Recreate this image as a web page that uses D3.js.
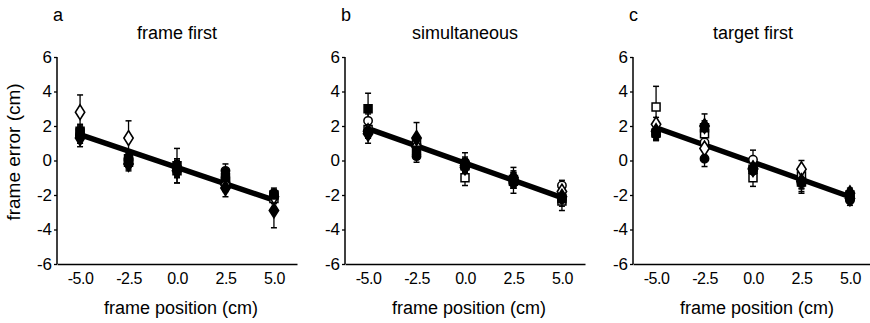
<!DOCTYPE html>
<html><head><meta charset="utf-8">
<script src="https://cdn.jsdelivr.net/npm/d3@7"></script>
<style>body{margin:0;background:#fff}svg{display:block}text{font-family:"Liberation Sans",Arial,sans-serif;fill:#000}</style>
</head><body><svg id="c" width="870" height="323"></svg>
<script>
// ---------- data ----------
const xPositions = [-5, -2.5, 0, 2.5, 5];
const xTickLabels = ["-5.0", "-2.5", "0.0", "2.5", "5.0"];
const yTicks = [-6, -4, -2, 0, 2, 4, 6];
const yTickLabels = ["-6", "-4", "-2", "0", "2", "4", "6"];
const panelLetters = ["a", "b", "c"];
const panelTitles = ["frame first", "simultaneous", "target first"];
const xAxisTitle = "frame position (cm)";
const yAxisTitle = "frame error (cm)";
const markerTypes = ["openCircle", "openSquare", "openDiamond", "filledCircle", "filledSquare", "filledDiamond"];

// panel a: frame first
const frameFirstOpenCircle   = [1.4, 0.1, -0.5, -1.3, -2.1];
const frameFirstOpenSquare   = [1.6, -0.1, -0.6, -1.2, -2.2];
const frameFirstOpenDiamond  = [2.8, 1.3, -0.4, -1.4, -2.1];
const frameFirstFilledCircle = [1.5, 0.0, -0.4, -0.6, -1.9];
const frameFirstFilledSquare = [1.7, 0.1, -0.3, -1.0, -2.0];
const frameFirstFilledDiamond= [1.3, -0.2, -0.6, -1.6, -2.9];
const frameFirstErrOpenCircle   = [0.4, 0.4, 0.4, 0.4, 0.3];
const frameFirstErrOpenSquare   = [0.4, 0.4, 0.4, 0.4, 0.3];
const frameFirstErrOpenDiamond  = [1.0, 1.0, 0.4, 0.4, 0.3];
const frameFirstErrFilledCircle = [0.5, 0.4, 0.5, 0.4, 0.3];
const frameFirstErrFilledSquare = [0.4, 0.3, 1.0, 0.4, 0.3];
const frameFirstErrFilledDiamond= [0.5, 0.4, 0.7, 0.5, 1.0];
const frameFirstFit = [1.5, -2.3];

// panel b: simultaneous
const simultaneousOpenCircle   = [2.3, 0.9, -0.2, -1.2, -1.45];
const simultaneousOpenSquare   = [1.8, 1.0, -1.0, -1.2, -2.35];
const simultaneousOpenDiamond  = [1.7, 0.8, -0.3, -1.1, -1.8];
const simultaneousFilledCircle = [1.7, 0.25, -0.1, -1.3, -2.25];
const simultaneousFilledSquare = [3.0, 0.6, -0.3, -1.1, -2.2];
const simultaneousFilledDiamond= [1.55, 1.3, -0.4, -1.0, -2.1];
const simultaneousErrOpenCircle   = [0.4, 0.4, 0.4, 0.4, 0.3];
const simultaneousErrOpenSquare   = [0.4, 0.4, 0.45, 0.4, 0.55];
const simultaneousErrOpenDiamond  = [0.4, 0.4, 0.4, 0.4, 0.3];
const simultaneousErrFilledCircle = [0.4, 0.35, 0.55, 0.6, 0.4];
const simultaneousErrFilledSquare = [0.9, 0.4, 0.4, 0.5, 0.3];
const simultaneousErrFilledDiamond= [0.55, 0.9, 0.5, 0.6, 0.4];
const simultaneousFit = [1.85, -2.15];

// panel c: target first
const targetFirstOpenCircle   = [1.7, 1.05, 0.05, -1.2, -2.1];
const targetFirstOpenSquare   = [3.1, 1.55, -1.0, -0.9, -2.0];
const targetFirstOpenDiamond  = [2.1, 0.7, -0.5, -0.5, -2.2];
const targetFirstFilledCircle = [1.5, 0.1, -0.6, -1.3, -2.3];
const targetFirstFilledSquare = [1.6, 1.9, -0.5, -1.25, -2.1];
const targetFirstFilledDiamond= [1.7, 2.0, -0.45, -1.2, -1.9];
const targetFirstErrOpenCircle   = [0.4, 0.4, 0.55, 0.4, 0.3];
const targetFirstErrOpenSquare   = [1.2, 0.4, 0.5, 0.4, 0.3];
const targetFirstErrOpenDiamond  = [0.4, 0.4, 0.4, 0.5, 0.3];
const targetFirstErrFilledCircle = [0.35, 0.45, 0.5, 0.6, 0.3];
const targetFirstErrFilledSquare = [0.4, 0.4, 0.4, 0.4, 0.3];
const targetFirstErrFilledDiamond= [0.5, 0.7, 0.5, 0.6, 0.3];
const targetFirstFit = [1.9, -2.1];

const panels = [
  {means: [frameFirstOpenCircle, frameFirstOpenSquare, frameFirstOpenDiamond, frameFirstFilledCircle, frameFirstFilledSquare, frameFirstFilledDiamond],
   errs: [frameFirstErrOpenCircle, frameFirstErrOpenSquare, frameFirstErrOpenDiamond, frameFirstErrFilledCircle, frameFirstErrFilledSquare, frameFirstErrFilledDiamond],
   fit: frameFirstFit},
  {means: [simultaneousOpenCircle, simultaneousOpenSquare, simultaneousOpenDiamond, simultaneousFilledCircle, simultaneousFilledSquare, simultaneousFilledDiamond],
   errs: [simultaneousErrOpenCircle, simultaneousErrOpenSquare, simultaneousErrOpenDiamond, simultaneousErrFilledCircle, simultaneousErrFilledSquare, simultaneousErrFilledDiamond],
   fit: simultaneousFit},
  {means: [targetFirstOpenCircle, targetFirstOpenSquare, targetFirstOpenDiamond, targetFirstFilledCircle, targetFirstFilledSquare, targetFirstFilledDiamond],
   errs: [targetFirstErrOpenCircle, targetFirstErrOpenSquare, targetFirstErrOpenDiamond, targetFirstErrFilledCircle, targetFirstErrFilledSquare, targetFirstErrFilledDiamond],
   fit: targetFirstFit}
];

// ---------- drawing ----------
const svg = d3.select("#c");
const panelLeft = [57, 345, 633];
const plotW = 240;
const y = d3.scaleLinear().domain([-6, 6]).range([264, 57]);

const symbolFor = {
  openCircle: d3.symbolCircle, filledCircle: d3.symbolCircle,
  openSquare: d3.symbolSquare, filledSquare: d3.symbolSquare,
  openDiamond: d3.symbolDiamond, filledDiamond: d3.symbolDiamond
};
const sizeFor = {openCircle: 55, filledCircle: 55, openSquare: 64, filledSquare: 64, openDiamond: 62, filledDiamond: 62};

panels.forEach((p, pi) => {
  const left = panelLeft[pi];
  const x = d3.scaleLinear().domain([-6.19, 6.19]).range([left, left + plotW]);
  const g = svg.append("g");

  // y axis
  const ya = g.append("g").attr("transform", `translate(${left},0)`)
    .call(d3.axisLeft(y).tickValues(yTicks).tickFormat((d, i) => yTickLabels[i]).tickSize(3).tickPadding(2));
  ya.select(".domain").attr("stroke-width", 1.5).attr("d", `M0,${y(6)}V${y(-6)}`);
  ya.selectAll(".tick line").attr("stroke-width", 1.3);
  ya.selectAll("text").style("font-size", "17px").style("font-family", "Liberation Sans, Arial, sans-serif");

  // x axis
  const xa = g.append("g").attr("transform", `translate(0,${y(-6)})`)
    .call(d3.axisBottom(x).tickValues(xPositions).tickFormat((d, i) => xTickLabels[i]).tickSize(0).tickPadding(9));
  xa.select(".domain").attr("stroke-width", 1.5);
  xa.selectAll("text").style("font-size", "16px").style("letter-spacing", "-0.5px").style("font-family", "Liberation Sans, Arial, sans-serif");

  // titles
  g.append("text").attr("x", left - 4).attr("y", 21).style("font-size", "18px").text(panelLetters[pi]);
  g.append("text").attr("x", x(0)).attr("y", 39).attr("text-anchor", "middle").style("font-size", "18px").text(panelTitles[pi]);
  g.append("text").attr("x", x(0) + 4).attr("y", 314).attr("text-anchor", "middle").style("font-size", "18px").text(xAxisTitle);

  // regression line
  g.append("line")
    .attr("x1", x(xPositions[0])).attr("y1", y(p.fit[0]))
    .attr("x2", x(xPositions[xPositions.length - 1])).attr("y2", y(p.fit[1]))
    .attr("stroke", "#000").attr("stroke-width", 5.5);

  // error bars
  p.means.forEach((vals, si) => {
    vals.forEach((v, k) => {
      const e = p.errs[si][k];
      const cx = x(xPositions[k]);
      g.append("line").attr("x1", cx).attr("x2", cx).attr("y1", y(v + e)).attr("y2", y(v - e))
        .attr("stroke", "#000").attr("stroke-width", 1.3);
      [v + e, v - e].forEach(t => g.append("line").attr("x1", cx - 3).attr("x2", cx + 3)
        .attr("y1", y(t)).attr("y2", y(t)).attr("stroke", "#000").attr("stroke-width", 1.5));
    });
  });

  // markers: open first, filled on top
  p.means.forEach((vals, si) => {
    const type = markerTypes[si];
    const filled = type.startsWith("filled");
    const sym = d3.symbol().type(symbolFor[type]).size(sizeFor[type]);
    vals.forEach((v, k) => {
      g.append("path").attr("d", sym())
        .attr("transform", `translate(${x(xPositions[k])},${y(v)})` + (type.endsWith("Diamond") ? " scale(1.1,1)" : ""))
        .attr("fill", filled ? "#000" : "#fff")
        .attr("stroke", "#000").attr("stroke-width", 1.5);
    });
  });
});

// y axis title (only on first panel)
svg.append("text").attr("transform", "translate(20,152) rotate(-90)")
  .attr("text-anchor", "middle").style("font-size", "19px").text(yAxisTitle);
</script></body></html>
